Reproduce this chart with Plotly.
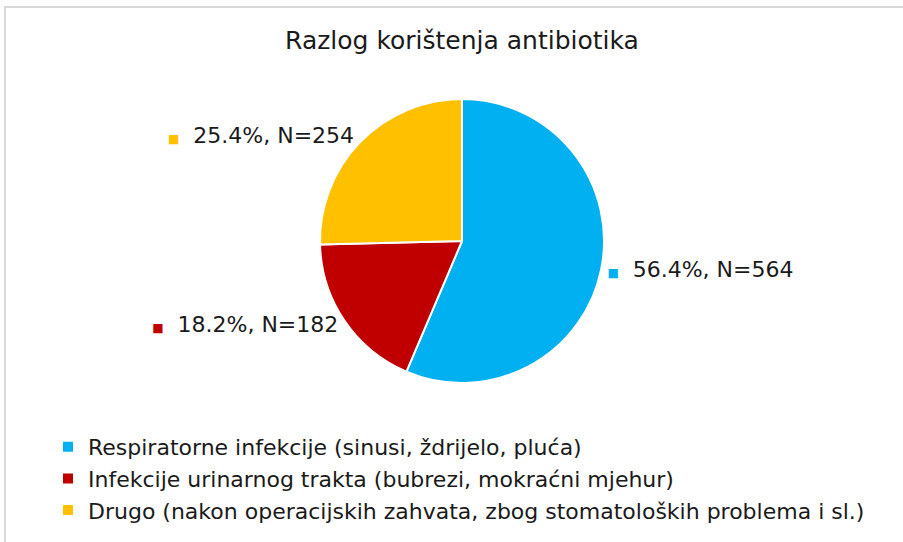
# %% Import libraries.
import plotly.graph_objects as go

# %% Data.
categories = [
    "Respiratorne infekcije (sinusi, ždrijelo, pluća)",
    "Infekcije urinarnog trakta (bubrezi, mokraćni mjehur)",
    "Drugo (nakon operacijskih zahvata, zbog stomatoloških problema i sl.)",
]
counts = [564, 182, 254]
colors = ["#00B0F0", "#C00000", "#FFC000"]

FONT = "DejaVu Sans, Verdana, sans-serif"
W, H = 903, 542


def px(x):
    return x / W


def py(y):
    return 1 - y / H


# %% Build figure.
fig = go.Figure()
fig.add_trace(
    go.Pie(
        labels=categories,
        values=counts,
        sort=False,
        direction="clockwise",
        rotation=0,
        marker=dict(colors=colors, line=dict(color="white", width=2)),
        textposition="outside",
        texttemplate=[
            f"<span style='color:{c};font-size:12px'>■</span>  %{{percent:.1%}}, N=%{{value}}"
            for c in colors
        ],
        textfont=dict(family=FONT, size=22, color="#1a1a1a"),
        domain=dict(x=[px(320), px(604)], y=[py(383), py(99)]),
        hoverinfo="label+value+percent",
    )
)

fig.update_layout(
    width=W,
    height=H,
    margin=dict(l=0, r=0, t=0, b=0),
    paper_bgcolor="white",
    font=dict(family=FONT, color="#1a1a1a"),
    title=dict(
        text="Razlog korištenja antibiotika",
        x=px(462),
        xanchor="center",
        y=py(40),
        yanchor="middle",
        font=dict(size=25, family=FONT, color="#1a1a1a"),
    ),
    legend=dict(
        x=px(48),
        xanchor="left",
        y=py(426),
        yanchor="top",
        orientation="v",
        font=dict(size=22, family=FONT, color="#1a1a1a"),
        itemwidth=30,
    ),
    shapes=[
        dict(
            type="rect",
            xref="paper",
            yref="paper",
            x0=px(5),
            x1=1.1,
            y0=-0.1,
            y1=py(7),
            line=dict(color="#D9D9D9", width=2),
            layer="below",
        )
    ],
)

# Drop the default 8px body margin so the figure sits at the page corner.
fig.write_html(
    "out.html",
    config={"displayModeBar": False},
    post_script="document.body.style.margin='0';",
)
